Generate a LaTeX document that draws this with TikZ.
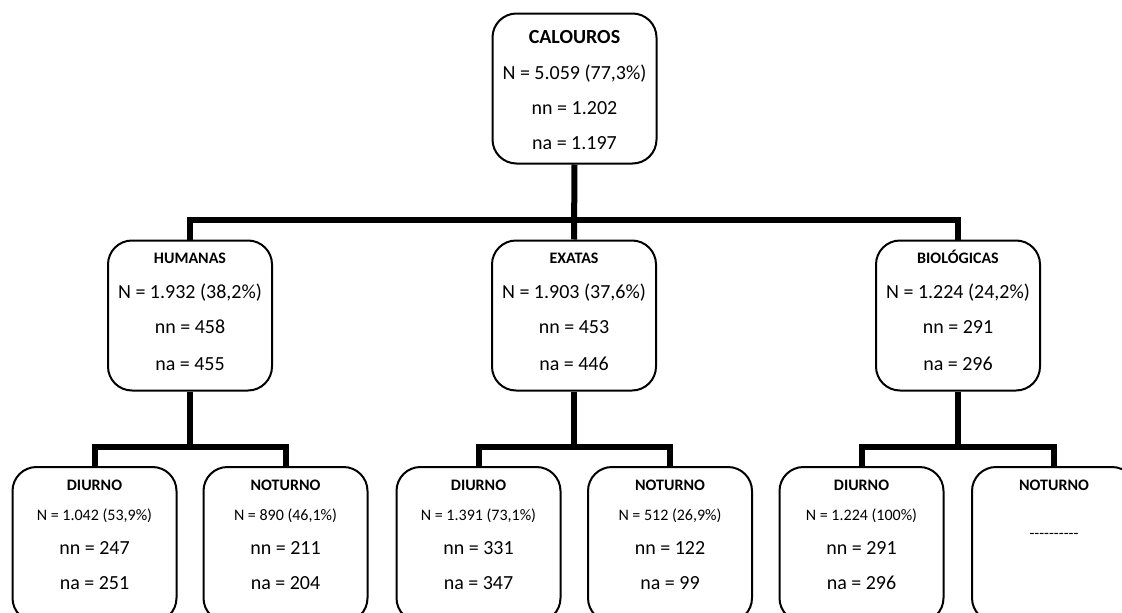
\documentclass[tikz,border=0pt]{standalone}
\usepackage{fontspec}
\setmainfont{Carlito}
\begin{document}
\begin{tikzpicture}[x=1pt,y=-1pt]
\tikzset{
  box/.style={draw, line width=2pt, rounded corners=24pt, minimum width=164pt, minimum height=150pt, inner sep=0pt},
  lowbox/.style={box, minimum height=155pt},
  conn/.style={line width=6pt},
  big/.style={font=\fontsize{20}{24}\selectfont, anchor=base, inner sep=0pt},
  bigb/.style={font=\fontsize{20}{24}\selectfont\bfseries, anchor=base, inner sep=0pt},
  sml/.style={font=\fontsize{16}{19}\selectfont, anchor=base, inner sep=0pt},
  smlb/.style={font=\fontsize{16}{19}\selectfont\bfseries, anchor=base, inner sep=0pt}
}
\useasboundingbox (0,0) rectangle (1122,613);

% boxes
\node[box] (top) at (574.5,88.5) {};
\node[box] (hum) at (190,315.5) {};
\node[box] (exa) at (574,315.5) {};
\node[box] (bio) at (958,315.5) {};
\node[lowbox] (hd) at (94.5,544.5) {};
\node[lowbox] (hn) at (285.5,544.5) {};
\node[lowbox] (ed) at (478.5,544.5) {};
\node[lowbox] (en) at (670,544.5) {};
\node[lowbox] (bd) at (861.5,544.5) {};
\node[lowbox] (bn) at (1054,544.5) {};

% connectors
\coordinate (j0) at (574,220);
\coordinate (j1) at (190,447);
\coordinate (j2) at (574,447);
\coordinate (j3) at (958,447);
\draw[conn] (top.south) -- (exa.north);
\draw[conn] (hum.north) |- (j0) -| (bio.north);
\draw[conn] (hum.south) -- (j1);
\draw[conn] (hd.north) |- (j1) -| (hn.north);
\draw[conn] (exa.south) -- (j2);
\draw[conn] (ed.north) |- (j2) -| (en.north);
\draw[conn] (bio.south) -- (j3);
\draw[conn] (bd.north) |- (j3) -| (bn.north);

% top texts
\node[bigb] (t1) at (574.5,43) {CALOUROS};
\node[big] (t2) at (574.5,79.5) {N = 5.059 (77,3\%)};
\node[big] (t3) at (574.5,114.5) {nn = 1.202};
\node[big] (t4) at (574.5,149.5) {na = 1.197};

% middle texts
\node[smlb] (h1) at (190,263.5) {HUMANAS};
\node[big] (h2) at (190,298.5) {N = 1.932 (38,2\%)};
\node[big] (h3) at (190,333.5) {nn = 458};
\node[big] (h4) at (190,370.5) {na = 455};

\node[smlb] (e1) at (574,263.5) {EXATAS};
\node[big] (e2) at (574,298.5) {N = 1.903 (37,6\%)};
\node[big] (e3) at (574,333.5) {nn = 453};
\node[big] (e4) at (574,370.5) {na = 446};

\node[smlb] (b1) at (958,263.5) {BIOLÓGICAS};
\node[big] (b2) at (958,298.5) {N = 1.224 (24,2\%)};
\node[big] (b3) at (958,333.5) {nn = 291};
\node[big] (b4) at (958,370.5) {na = 296};

% bottom texts
\node[smlb] (hd1) at (94.5,490.5) {DIURNO};
\node[sml] (hd2) at (94.5,520.5) {N = 1.042 (53,9\%)};
\node[big] (hd3) at (94.5,554.5) {nn = 247};
\node[big] (hd4) at (94.5,589.5) {na = 251};

\node[smlb] (hn1) at (285.5,490.5) {NOTURNO};
\node[sml] (hn2) at (285.5,520.5) {N = 890 (46,1\%)};
\node[big] (hn3) at (285.5,554.5) {nn = 211};
\node[big] (hn4) at (285.5,589.5) {na = 204};

\node[smlb] (ed1) at (478.5,490.5) {DIURNO};
\node[sml] (ed2) at (478.5,520.5) {N = 1.391 (73,1\%)};
\node[big] (ed3) at (478.5,554.5) {nn = 331};
\node[big] (ed4) at (478.5,589.5) {na = 347};

\node[smlb] (en1) at (670,490.5) {NOTURNO};
\node[sml] (en2) at (670,520.5) {N = 512 (26,9\%)};
\node[big] (en3) at (670,554.5) {nn = 122};
\node[big] (en4) at (670,589.5) {na = 99};

\node[smlb] (bd1) at (861.5,490.5) {DIURNO};
\node[sml] (bd2) at (861.5,520.5) {N = 1.224 (100\%)};
\node[big] (bd3) at (861.5,554.5) {nn = 291};
\node[big] (bd4) at (861.5,589.5) {na = 296};

\node[smlb] (bn1) at (1054,490.5) {NOTURNO};
\node[sml] (bn2) at (1054,538) {-{}-{}-{}-{}-{}-{}-{}-{}-{}-};
\end{tikzpicture}
\end{document}
